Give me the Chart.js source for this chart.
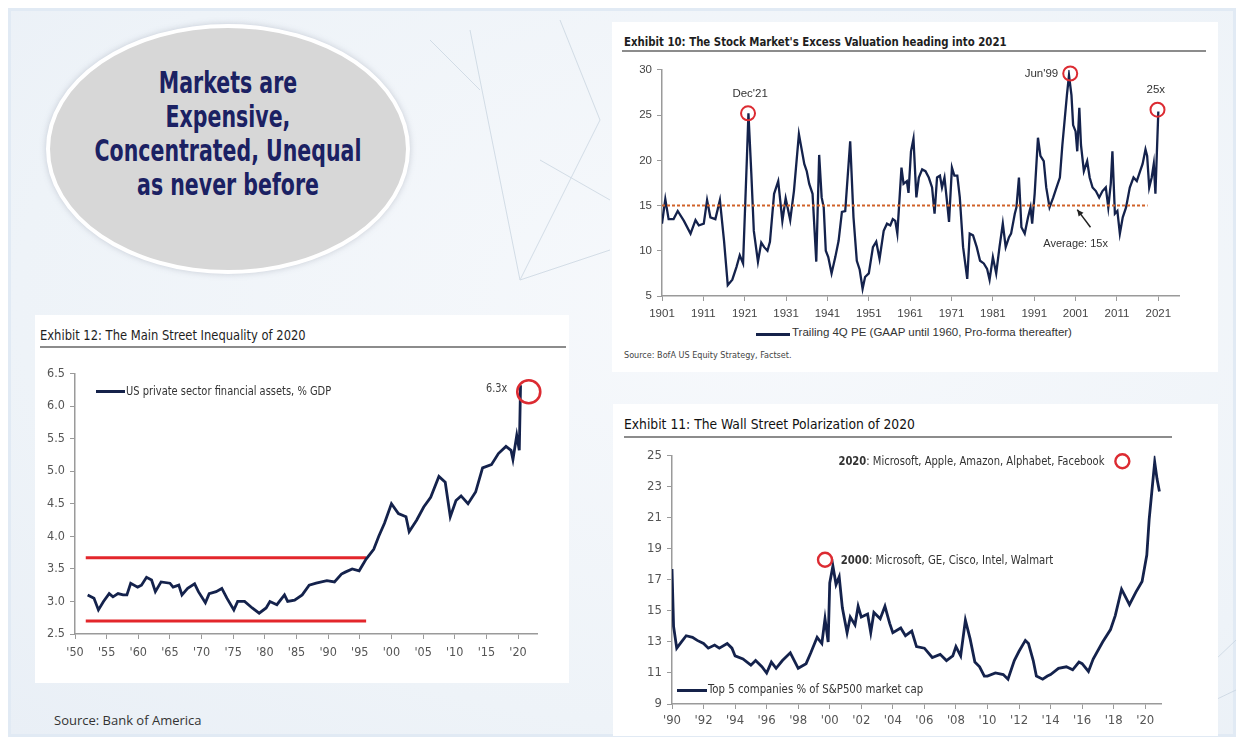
<!DOCTYPE html>
<html>
<head>
<meta charset="utf-8">
<script src="https://cdn.jsdelivr.net/npm/chart.js@4.4.1/dist/chart.umd.min.js"></script>
<style>
body { margin: 0; background: #fff; }
#page { position: relative; width: 1242px; height: 740px; overflow: hidden; background: #fff; }
#frame { position: absolute; left: 8px; top: 8px; width: 1228px; height: 729px; box-sizing: border-box;
  border: 3px solid #e1eaf4; background: radial-gradient(ellipse at 60% 40%, #f7f9fc 0%, #eef3f8 70%, #e9eff6 100%); }
.panel { position: absolute; background: #fff; }
.title { position: absolute; white-space: nowrap; color: #1e1e1e; transform-origin: left center;
  font-family: 'Liberation Sans Narrow', 'DejaVu Sans Condensed', Arial, sans-serif; }
.rule { position: absolute; height: 0; border-top: 2px solid #8c8c8c; }
.legline { position: absolute; height: 3px; background: #15224a; }
.legtext { position: absolute; white-space: nowrap; color: #333; transform-origin: left center; }
canvas { position: absolute; }
#oval { position: absolute; left: 46px; top: 24px; width: 364px; height: 250px; box-sizing: border-box;
  border-radius: 50%; background: #d7d7d7; border: 4px solid #fff; box-shadow: 0 0 6px rgba(120,130,150,0.35); }
#ovaltext { position: absolute; left: 46px; top: 66px; width: 364px; text-align: center; color: #1b2163;
  font-family: 'Liberation Sans Narrow', 'DejaVu Sans Condensed', Arial, sans-serif; font-weight: bold; font-size: 30px; line-height: 34px; }
#ovaltext div { transform: scaleX(0.76); }
</style>
</head>
<body>
<div id="page">
  <div id="frame"></div>
  <svg style="position:absolute;left:0;top:0" width="1242" height="740">
    <g stroke="#c5d2de" stroke-width="1" fill="none" opacity="0.7">
      <path d="M470 30 L520 280 L600 120 L560 20"/>
      <path d="M520 280 L610 250 M540 160 L610 200 M430 40 L480 90"/>
      <path d="M1215 660 L1236 640 M1215 700 L1236 690"/>
    </g>
  </svg>

  <div id="oval"></div>
  <div id="ovaltext">
    <div>Markets are</div>
    <div>Expensive,</div>
    <div>Concentrated, Unequal</div>
    <div>as never before</div>
  </div>

  <!-- Exhibit 10 -->
  <div class="panel" style="left:612px;top:22px;width:606px;height:350px"></div>
  <div class="title" style="left:624px;top:34px;font-size:13px;font-weight:bold;transform:scaleX(0.87)">Exhibit 10: The Stock Market's Excess Valuation heading into 2021</div>
  <div class="rule" style="left:622px;top:50px;width:584px"></div>
  <canvas id="ex10" width="578" height="268" style="left:612px;top:58px"></canvas>
  <div class="legline" style="left:756px;top:333px;width:34px"></div>
  <div class="legtext" style="left:792px;top:326px;font:11.5px 'Liberation Sans', Arial, sans-serif">Trailing 4Q PE (GAAP until 1960, Pro-forma thereafter)</div>
  <div class="legtext" style="left:624px;top:350px;font:9px 'Liberation Sans Narrow', 'DejaVu Sans Condensed', Arial, sans-serif;color:#444">Source: BofA US Equity Strategy, Factset.</div>

  <!-- Exhibit 12 -->
  <div class="panel" style="left:35px;top:315px;width:534px;height:368px"></div>
  <div class="title" style="left:40px;top:327px;font-size:13.5px;transform:scaleX(0.95)">Exhibit 12: The Main Street Inequality of 2020</div>
  <div class="rule" style="left:40px;top:346px;width:526px"></div>
  <canvas id="ex12" width="512" height="303" style="left:35px;top:361px"></canvas>
  <div class="legline" style="left:96px;top:390px;width:29px"></div>
  <div class="legtext" style="left:126px;top:383px;font:12.5px 'Liberation Sans Narrow', 'DejaVu Sans Condensed', Arial, sans-serif;transform:scaleX(0.88)">US private sector financial assets, % GDP</div>
  <div class="legtext" style="left:54px;top:711px;font:13px 'Open Sans', sans-serif;color:#333">Source: Bank of America</div>

  <!-- Exhibit 11 -->
  <div class="panel" style="left:613px;top:404px;width:605px;height:332px"></div>
  <div class="title" style="left:624px;top:416px;font-size:14px;color:#111;transform:scaleX(0.98)">Exhibit 11: The Wall Street Polarization of 2020</div>
  <div class="rule" style="left:624px;top:436px;width:548px"></div>
  <canvas id="ex11" width="555" height="291" style="left:616px;top:443px"></canvas>
  <div class="legline" style="left:677px;top:689px;width:30px"></div>
  <div class="legtext" style="left:708px;top:681px;font:13px 'Liberation Sans Narrow', 'DejaVu Sans Condensed', Arial, sans-serif;transform:scaleX(0.87)">Top 5 companies % of S&amp;P500 market cap</div>
</div>

<script>
// Exhibit 10 - trailing PE
const peYears = [1901.0, 1901.8, 1902.6, 1903.8, 1904.8, 1906.3, 1907.9, 1909.1, 1909.9, 1911.1, 1911.9, 1912.7, 1913.9, 1915.0, 1916.0, 1916.9, 1918.0, 1919.0, 1919.8, 1920.6,
  1921.5, 1921.9, 1922.6, 1923.2, 1924.2, 1925.0, 1925.7, 1926.5, 1927.1, 1928.1, 1929.1, 1930.1, 1930.9, 1932.0, 1932.9, 1934.1, 1935.4, 1936.0, 1936.6, 1937.4,
  1938.3, 1939.0, 1939.6, 1940.1, 1940.6, 1941.2, 1942.0, 1942.9, 1943.7, 1944.5, 1945.3, 1946.5, 1947.3, 1948.1, 1948.8, 1949.5, 1950.1, 1951.0, 1952.0, 1952.8,
  1953.6, 1954.6, 1955.4, 1956.2, 1956.8, 1957.4, 1957.9, 1958.9, 1959.4, 1960.2, 1960.6, 1961.2, 1961.8, 1962.5, 1963.1, 1963.9, 1964.7, 1965.5, 1966.3, 1966.9,
  1967.5, 1968.2, 1968.7, 1969.3, 1969.9, 1970.4, 1971.1, 1971.7, 1972.4, 1973.0, 1973.8, 1974.8, 1975.4, 1976.2, 1977.1, 1977.9, 1978.8, 1979.6, 1980.2, 1981.0,
  1981.8, 1982.6, 1983.4, 1984.1, 1984.9, 1985.4, 1986.3, 1986.7, 1987.3, 1987.9, 1988.7, 1989.5, 1990.1, 1990.5, 1991.1, 1991.9, 1992.5, 1993.3, 1993.9, 1994.7,
  1995.6, 1996.4, 1997.2, 1997.8, 1998.4, 1998.9, 1999.4, 2000.0, 2000.4, 2001.0, 2001.4, 2001.9, 2002.3, 2003.0, 2003.8, 2004.4, 2005.1, 2005.9, 2006.7, 2007.5,
  2008.3, 2008.9, 2009.5, 2009.9, 2010.5, 2011.1, 2011.7, 2012.4, 2013.2, 2014.1, 2015.0, 2015.8, 2016.6, 2017.2, 2017.9, 2018.3, 2018.8, 2019.4, 2019.9, 2020.3, 2021.0];
const peValues = [13.0, 15.7, 13.5, 13.5, 14.4, 13.3, 11.9, 13.4, 12.8, 13.0, 15.6, 13.7, 13.5, 15.6, 11.1, 6.2, 6.8, 8.2, 9.5, 8.6,
  19.9, 25.2, 18.5, 12.2, 8.8, 10.9, 10.4, 10.0, 11.0, 16.3, 17.7, 13.3, 15.8, 13.4, 16.6, 22.9, 19.6, 18.8, 17.4, 16.3,
  8.8, 20.6, 15.9, 14.8, 10.0, 9.3, 7.5, 9.3, 11.1, 14.3, 14.4, 22.1, 13.7, 8.9, 7.9, 5.8, 7.1, 7.5, 10.4, 11.0,
  9.1, 12.2, 13.0, 12.8, 13.5, 13.3, 11.9, 19.2, 17.4, 17.7, 16.4, 21.0, 22.4, 15.9, 18.1, 19.0, 18.8, 18.1, 17.0, 14.1,
  18.1, 18.3, 17.0, 18.1, 15.5, 13.2, 19.2, 18.3, 18.3, 15.9, 10.4, 6.9, 11.9, 11.7, 10.4, 8.9, 8.6, 8.0, 6.8, 9.3,
  7.5, 10.4, 13.0, 10.4, 11.5, 11.9, 14.1, 14.8, 18.1, 12.6, 11.9, 13.7, 14.8, 13.0, 16.3, 22.5, 20.5, 19.9, 17.0, 14.8,
  15.9, 17.0, 18.1, 21.7, 24.7, 27.2, 29.4, 27.2, 23.9, 23.2, 21.0, 25.8, 21.7, 18.8, 19.9, 18.1, 17.0, 16.6, 15.9, 16.6,
  17.0, 14.8, 17.4, 21.0, 14.1, 14.4, 11.9, 13.7, 14.8, 17.0, 18.1, 17.7, 18.8, 19.6, 21.2, 20.5, 17.0, 18.1, 19.6, 16.3, 25.4];
const peAverage = 15;
const peAvgYears = [1901, 2018.4];
const peXTicks = [1901, 1911, 1921, 1931, 1941, 1951, 1961, 1971, 1981, 1991, 2001, 2011, 2021];
const peYTicks = [5, 10, 15, 20, 25, 30];

// Exhibit 12 - US private sector financial assets, % GDP
const assetYears = [1952.0, 1953.0, 1953.7, 1954.5, 1955.4, 1956.0, 1956.8, 1957.6, 1958.2, 1958.8, 1959.9, 1960.5, 1961.3, 1962.1, 1962.7, 1963.6, 1965.0, 1965.5, 1966.4, 1966.9,
  1967.8, 1968.9, 1969.5, 1970.6, 1971.2, 1972.3, 1973.2, 1974.0, 1975.1, 1975.7, 1976.8, 1978.0, 1979.1, 1980.2, 1980.8, 1981.9, 1983.1, 1983.6, 1984.7, 1985.9,
  1987.0, 1988.1, 1989.8, 1991.0, 1992.1, 1992.7, 1993.8, 1994.9, 1996.0, 1997.2, 1998.0, 1998.9, 2000.0, 2001.1, 2002.3, 2002.8, 2004.0, 2005.1, 2006.2, 2007.5,
  2008.5, 2009.3, 2010.2, 2011.0, 2012.1, 2013.3, 2014.4, 2015.8, 2016.9, 2018.1, 2018.9, 2019.2, 2019.8, 2020.2, 2020.4];
const assetValues = [3.10, 3.05, 2.87, 3.00, 3.12, 3.07, 3.12, 3.10, 3.10, 3.28, 3.22, 3.25, 3.37, 3.33, 3.15, 3.30, 3.28, 3.22, 3.25, 3.10,
  3.20, 3.27, 3.15, 2.98, 3.12, 3.15, 3.20, 3.05, 2.87, 3.00, 3.00, 2.90, 2.82, 2.90, 3.00, 2.95, 3.10, 3.00, 3.02, 3.10,
  3.25, 3.28, 3.32, 3.30, 3.42, 3.45, 3.50, 3.47, 3.65, 3.80, 4.00, 4.20, 4.50, 4.35, 4.30, 4.07, 4.25, 4.45, 4.60, 4.92,
  4.83, 4.30, 4.55, 4.62, 4.50, 4.68, 5.05, 5.10, 5.27, 5.38, 5.32, 5.18, 5.55, 5.32, 6.32];
const bandLevels = [3.67, 2.7];
const bandYears = [1951.7, 1996];
const assetXTicks = [1950, 1955, 1960, 1965, 1970, 1975, 1980, 1985, 1990, 1995, 2000, 2005, 2010, 2015, 2020];
const assetYTicks = [2.5, 3.0, 3.5, 4.0, 4.5, 5.0, 5.5, 6.0, 6.5];

// Exhibit 11 - top 5 share of S&P500
const top5Years = [1990.0, 1990.1, 1990.3, 1990.6, 1990.9, 1991.3, 1991.6, 1992.0, 1992.3, 1992.7, 1993.0, 1993.5, 1993.8, 1994.0, 1994.5, 1995.0, 1995.3, 1995.7, 1996.0, 1996.3,
  1996.6, 1997.0, 1997.5, 1998.0, 1998.5, 1998.8, 1999.2, 1999.5, 1999.7, 1999.9, 2000.0, 2000.2, 2000.4, 2000.6, 2000.8, 2001.1, 2001.3, 2001.6, 2001.8, 2002.0,
  2002.4, 2002.6, 2002.8, 2003.2, 2003.5, 2003.8, 2004.0, 2004.5, 2004.8, 2005.2, 2005.5, 2006.0, 2006.5, 2007.0, 2007.4, 2007.8, 2008.0, 2008.3, 2008.6, 2008.9,
  2009.2, 2009.5, 2009.8, 2010.0, 2010.5, 2011.0, 2011.3, 2011.7, 2012.0, 2012.4, 2012.6, 2012.9, 2013.1, 2013.5, 2013.8, 2014.0, 2014.5, 2015.0, 2015.4, 2015.8,
  2016.0, 2016.4, 2016.7, 2017.3, 2017.8, 2018.1, 2018.5, 2019.0, 2019.4, 2019.8, 2020.1, 2020.25, 2020.6, 2020.75, 2020.9];
const top5Values = [17.7, 14.0, 12.6, 13.0, 13.4, 13.3, 13.1, 12.9, 12.6, 12.8, 12.6, 12.9, 12.6, 12.1, 11.9, 11.5, 11.8, 11.4, 11.0, 11.7,
  11.3, 11.8, 12.3, 11.3, 11.6, 12.3, 13.3, 12.9, 14.5, 13.0, 16.8, 17.9, 16.7, 17.2, 15.2, 13.6, 14.6, 14.1, 15.3, 14.6,
  14.8, 13.6, 14.9, 14.5, 15.3, 14.2, 13.6, 13.9, 13.4, 13.7, 12.7, 12.6, 12.0, 12.2, 11.8, 12.1, 12.7, 12.1, 14.4, 13.2,
  11.7, 11.4, 10.8, 10.8, 11.0, 10.9, 10.6, 11.8, 12.4, 13.1, 12.9, 11.8, 10.8, 10.6, 10.8, 10.9, 11.3, 11.4, 11.2, 11.7,
  11.6, 11.1, 11.9, 13.0, 13.8, 14.7, 16.4, 15.4, 16.2, 16.9, 18.6, 20.9, 24.6, 23.5, 22.7];
const top5XTicks = [1990, 1992, 1994, 1996, 1998, 2000, 2002, 2004, 2006, 2008, 2010, 2012, 2014, 2016, 2018, 2020];
const top5YTicks = [9, 11, 13, 15, 17, 19, 21, 23, 25];

const NAVY = '#14224c';
const RED = '#dc2b32';
const NARROW = "'Liberation Sans Narrow', 'DejaVu Sans Condensed', Arial, sans-serif";
const ARIAL = "'Liberation Sans', Arial, sans-serif";

function pts(xs, ys) {
    return xs.map((x, i) => ({ x: x, y: ys[i] }));
}

function shortYear(v) {
    return "'" + String(v % 100).padStart(2, '0');
}

// draws circles, labels and arrows given in data units
const notes = {
    id: 'notes',
    afterDatasetsDraw(chart, args, opts) {
        const ctx = chart.ctx;
        const xs = chart.scales.x, ys = chart.scales.y;
        ctx.save();
        (opts.circles || []).forEach(c => {
            ctx.beginPath();
            ctx.arc(xs.getPixelForValue(c.x), ys.getPixelForValue(c.y), c.r, 0, Math.PI * 2);
            ctx.strokeStyle = RED;
            ctx.lineWidth = c.w || 2;
            ctx.stroke();
        });
        (opts.labels || []).forEach(l => {
            ctx.save();
            ctx.translate(xs.getPixelForValue(l.x), ys.getPixelForValue(l.y));
            ctx.scale(l.sx || 1, 1);
            ctx.textBaseline = 'middle';
            ctx.fillStyle = l.color || '#333';
            let px = 0;
            if (l.bold) {
                ctx.font = 'bold ' + l.font;
                ctx.textAlign = 'left';
                ctx.fillText(l.bold, 0, 0);
                px = ctx.measureText(l.bold).width;
            }
            ctx.font = l.font;
            ctx.textAlign = l.align || 'left';
            ctx.fillText(l.text, px, 0);
            ctx.restore();
        });
        (opts.arrows || []).forEach(a => {
            const x1 = xs.getPixelForValue(a.x1), y1 = ys.getPixelForValue(a.y1);
            const x2 = xs.getPixelForValue(a.x2), y2 = ys.getPixelForValue(a.y2);
            const ang = Math.atan2(y2 - y1, x2 - x1);
            ctx.strokeStyle = '#222';
            ctx.fillStyle = '#222';
            ctx.lineWidth = 1.5;
            ctx.beginPath();
            ctx.moveTo(x1, y1);
            ctx.lineTo(x2, y2);
            ctx.stroke();
            ctx.beginPath();
            ctx.moveTo(x2, y2);
            ctx.lineTo(x2 - 7 * Math.cos(ang - 0.45), y2 - 7 * Math.sin(ang - 0.45));
            ctx.lineTo(x2 - 7 * Math.cos(ang + 0.45), y2 - 7 * Math.sin(ang + 0.45));
            ctx.closePath();
            ctx.fill();
        });
        ctx.restore();
    }
};

function axis(min, max, tickList, fmt, font, color, size, horizontal, pad) {
    return {
        type: 'linear',
        min: min,
        max: max,
        afterBuildTicks: s => { s.ticks = tickList.map(v => ({ value: v })); },
        afterFit: s => { if (horizontal) { s.height = size; } else { s.width = size; } },
        ticks: { callback: fmt, autoSkip: false, maxRotation: 0, font: font, color: color, padding: pad },
        grid: { drawOnChartArea: false, drawTicks: true, tickLength: 5, color: '#9a9a9a', lineWidth: 1 },
        border: { color: '#9a9a9a', width: 1.5 }
    };
}

function baseOptions(x, y, noteOpts) {
    return {
        responsive: false,
        animation: false,
        layout: { padding: { top: 10, right: 10, left: 0, bottom: 0 } },
        plugins: { legend: { display: false }, tooltip: { enabled: false }, notes: noteOpts },
        elements: { point: { radius: 0 }, line: { tension: 0 } },
        scales: { x: x, y: y }
    };
}

// Exhibit 10
const ex10 = new Chart(document.getElementById('ex10'), {
    type: 'line',
    data: {
        datasets: [{
            label: 'Average',
            data: pts(peAvgYears, peAvgYears.map(() => peAverage)),
            borderColor: '#d0632a',
            borderWidth: 2,
            borderDash: [3, 2],
            order: 0
        }, {
            label: 'Trailing 4Q PE (GAAP until 1960, Pro-forma thereafter)',
            data: pts(peYears, peValues),
            borderColor: NAVY,
            borderWidth: 2.3,
            order: 1
        }]
    },
    options: (() => {
        const o = baseOptions(
            axis(1901, 2026, peXTicks, v => String(v), { family: ARIAL, size: 11.5 }, '#444', 30, true, 6),
            axis(5, 30, peYTicks, v => String(v), { family: ARIAL, size: 11.5 }, '#444', 50, false, 5),
            {
                circles: [{ x: 1921.8, y: 25.2, r: 7 }, { x: 1999.7, y: 29.6, r: 7 }, { x: 2020.8, y: 25.6, r: 7 }],
                labels: [
                    { x: 1922.3, y: 27.3, text: "Dec'21", align: 'center', font: '11.5px ' + ARIAL },
                    { x: 1996.8, y: 29.6, text: "Jun'99", align: 'right', font: '11.5px ' + ARIAL },
                    { x: 2020.4, y: 27.8, text: '25x', align: 'center', font: '11.5px ' + ARIAL },
                    { x: 1993.2, y: 10.8, text: 'Average: 15x', align: 'left', font: '11px ' + ARIAL }
                ],
                arrows: [{ x1: 2004.6, y1: 12.6, x2: 2001.4, y2: 14.55 }]
            });
        o.layout.padding.right = 11;
        return o;
    })(),
    plugins: [notes]
});

// Exhibit 12
const ex12 = new Chart(document.getElementById('ex12'), {
    type: 'line',
    data: {
        datasets: [{
            label: 'US private sector financial assets, % GDP',
            data: pts(assetYears, assetValues),
            borderColor: NAVY,
            borderWidth: 2.8
        }, {
            label: 'upper',
            data: pts(bandYears, bandYears.map(() => bandLevels[0])),
            borderColor: '#e3262b',
            borderWidth: 3
        }, {
            label: 'lower',
            data: pts(bandYears, bandYears.map(() => bandLevels[1])),
            borderColor: '#e3262b',
            borderWidth: 3
        }]
    },
    options: baseOptions(
        axis(1950, 2023, assetXTicks, shortYear, { family: NARROW, size: 12.5 }, '#555', 30, true, 6),
        axis(2.5, 6.5, assetYTicks, v => v.toFixed(1), { family: NARROW, size: 12.5 }, '#555', 40, false, 5),
        {
            circles: [{ x: 2021.7, y: 6.22, r: 11.5, w: 2.6 }],
            labels: [{ x: 2018.3, y: 6.27, text: '6.3x', align: 'right', font: '12px ' + NARROW, color: '#444', sx: 0.9 }]
        }),
    plugins: [notes]
});

// Exhibit 11
const ex11 = new Chart(document.getElementById('ex11'), {
    type: 'line',
    data: {
        datasets: [{
            label: 'Top 5 companies % of S&P500 market cap',
            data: pts(top5Years, top5Values),
            borderColor: NAVY,
            borderWidth: 2.8
        }]
    },
    options: baseOptions(
        axis(1990, 2021, top5XTicks, shortYear, { family: NARROW, size: 13 }, '#555', 30, true, 4),
        axis(9, 25, top5YTicks, v => String(v), { family: NARROW, size: 13 }, '#555', 56, false, 5),
        {
            circles: [{ x: 1999.7, y: 18.3, r: 7, w: 2.4 }, { x: 2018.55, y: 24.65, r: 7, w: 2.4 }],
            labels: [
                { x: 2000.7, y: 18.25, bold: '2000', text: ': Microsoft, GE, Cisco, Intel, Walmart', font: '12.5px ' + NARROW, sx: 0.9 },
                { x: 2000.55, y: 24.6, bold: '2020', text: ': Microsoft, Apple, Amazon, Alphabet, Facebook', font: '12.5px ' + NARROW, sx: 0.89 }
            ]
        }),
    plugins: [notes]
});
</script>
</body>
</html>
